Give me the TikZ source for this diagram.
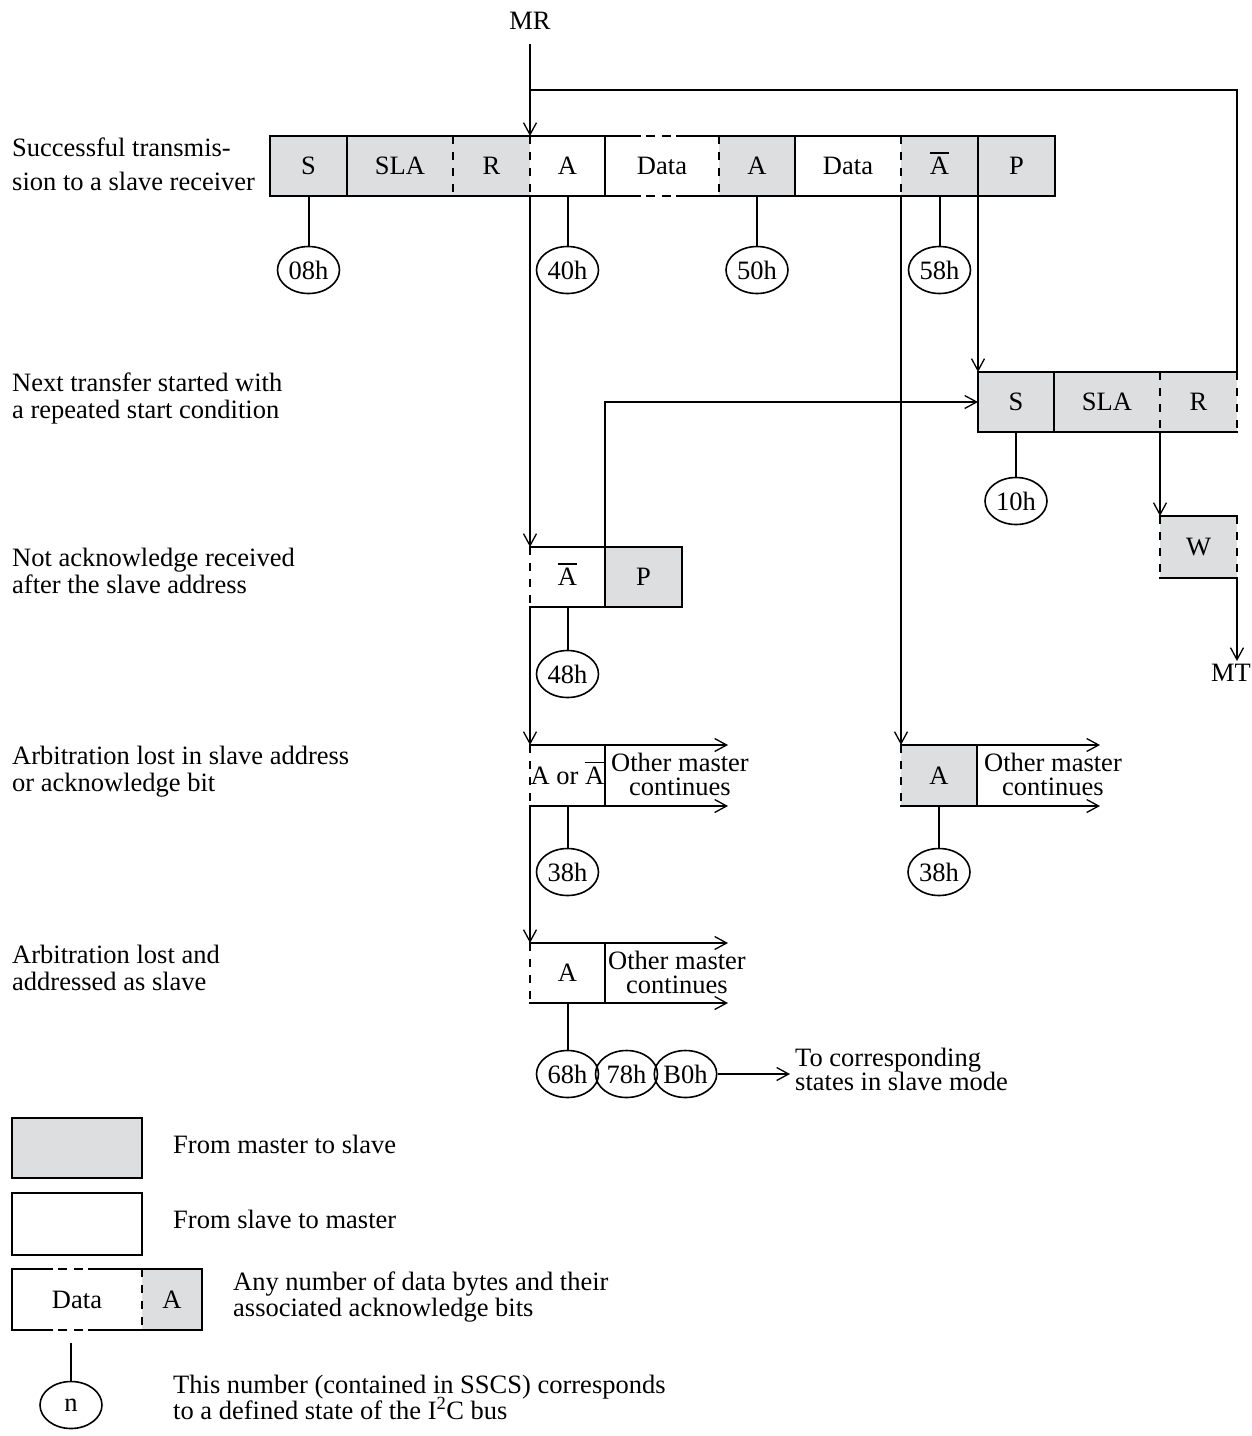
\documentclass[tikz,border=0pt]{standalone}
\usepackage{fontspec}
\setmainfont{Liberation Serif}
\usetikzlibrary{arrows.meta,shapes.geometric}
\definecolor{mgray}{RGB}{221,222,224}
\newcommand{\ovA}{\makebox[0pt][l]{\smash{\rule[21pt]{19pt}{1.5pt}}}A}
\begin{document}
\begin{tikzpicture}[x=1pt,y=-1pt,font=\fontsize{26.5}{27}\selectfont]
\tikzset{
 cell/.style={draw=none, minimum height=60pt, inner sep=0pt, outer sep=0pt, anchor=north west},
 gcell/.style={cell, fill=mgray},
 wcell/.style={cell, fill=white},
 boxline/.style={line width=2pt, line cap=rect},
 dashline/.style={line width=2pt, dash pattern=on 8pt off 8pt},
 midgap/.style={line width=2pt, dash pattern=on 0pt off 6pt on 9pt off 7pt on 9pt off 6pt},
 conn/.style={line width=1.3pt},
 arr/.style={conn, -{Straight Barb[length=12pt,width=13pt,line width=1.3pt]}},
 stem/.style={line width=2pt},
 stnode/.style={ellipse, draw, line width=1.6pt, minimum width=62pt, minimum height=47pt, inner sep=0pt},
 lbl/.style={anchor=base west, inner sep=0pt},
 ctr/.style={anchor=base, inner sep=0pt},
}
\useasboundingbox (0,0) rectangle (1252,1436);

% ---------- left labels ----------
\node[lbl] (l1a) at (12,156) {Successful transmis-};
\node[lbl] (l1b) at (12,190) {sion to a slave receiver};
\node[lbl] (l2a) at (12,391) {Next transfer started with};
\node[lbl] (l2b) at (12,418) {a repeated start condition};
\node[lbl] (l3a) at (12,566) {Not acknowledge received};
\node[lbl] (l3b) at (12,593) {after the slave address};
\node[lbl] (l4a) at (12,764) {Arbitration lost in slave address};
\node[lbl] (l4b) at (12,791) {or acknowledge bit};
\node[lbl] (l5a) at (12,963) {Arbitration lost and};
\node[lbl] (l5b) at (12,990) {addressed as slave};

% ---------- row 1 ----------
\node[gcell, minimum width=77pt] (s1) at (270,136) {S};
\node[gcell, minimum width=106pt] (sla1) at (347,136) {SLA};
\node[gcell, minimum width=77pt] (r1) at (453,136) {R};
\node[wcell, minimum width=75pt] (a1) at (530,136) {A};
\node[wcell, minimum width=114pt] (d1) at (605,136) {Data};
\node[gcell, minimum width=76pt] (a2) at (719,136) {A};
\node[wcell, minimum width=106pt] (d2) at (795,136) {Data};
\node[gcell, minimum width=77pt] (nab1) at (901,136) {\ovA};
\node[gcell, minimum width=77pt] (p1) at (978,136) {P};
\draw[boxline] (s1.north west) -- ([xshift=35pt]d1.north west);
\draw[midgap] ([xshift=35pt]d1.north west) -- ([xshift=72pt]d1.north west);
\draw[boxline] ([xshift=72pt]d1.north west) -- (p1.north east);
\draw[boxline] (s1.south west) -- ([xshift=35pt]d1.south west);
\draw[midgap] ([xshift=35pt]d1.south west) -- ([xshift=72pt]d1.south west);
\draw[boxline] ([xshift=72pt]d1.south west) -- (p1.south east);
\draw[boxline] (s1.north west) -- (s1.south west);
\draw[boxline] (sla1.north west) -- (sla1.south west);
\draw[dashline] (r1.north west) -- (r1.south west);
\draw[dashline] (a1.north west) -- (a1.south west);
\draw[boxline] (d1.north west) -- (d1.south west);
\draw[dashline] (a2.north west) -- (a2.south west);
\draw[boxline] (d2.north west) -- (d2.south west);
\draw[dashline] (nab1.north west) -- (nab1.south west);
\draw[boxline] (p1.north west) -- (p1.south west);
\draw[boxline] (p1.north east) -- (p1.south east);

% ---------- row 2 ----------
\node[gcell, minimum width=76pt] (s2) at (978,372) {S};
\node[gcell, minimum width=106pt] (sla2) at (1054,372) {SLA};
\node[gcell, minimum width=77pt] (r2) at (1160,372) {R};
\draw[boxline] (s2.north west) -- (r2.north east);
\draw[boxline] (s2.south west) -- (r2.south east);
\draw[boxline] (s2.north west) -- (s2.south west);
\draw[boxline] (sla2.north west) -- (sla2.south west);
\draw[dashline] (r2.north west) -- (r2.south west);
\draw[dashline] (r2.north east) -- (r2.south east);

% W box
\node[gcell, minimum width=77pt, minimum height=62pt] (w) at (1160,516) {W};
\draw[boxline] (w.north west) -- (w.north east);
\draw[boxline] (w.south west) -- (w.south east);
\draw[dashline] (w.north west) -- (w.south west);
\draw[dashline] (w.north east) -- (w.south east);

% ---------- row 4 ----------
\node[wcell, minimum width=75pt] (nab2) at (530,547) {\ovA};
\node[gcell, minimum width=77pt] (p2) at (605,547) {P};
\draw[boxline] (nab2.north west) -- (p2.north east) -- (p2.south east) -- (nab2.south west);
\draw[boxline] (p2.north west) -- (p2.south west);
\draw[dashline] (nab2.north west) -- (nab2.south west);

% ---------- row 5 ----------
\node[wcell, minimum width=75pt, minimum height=61pt] (aor) at (530,745) {A or \ovA};
\draw[boxline] (aor.north west) -- (aor.north east) -- (aor.south east) -- (aor.south west);
\draw[dashline] (aor.north west) -- (aor.south west);
\node[gcell, minimum width=76pt, minimum height=61pt] (a5) at (901,745) {A};
\draw[boxline] (a5.north west) -- (a5.north east) -- (a5.south east) -- (a5.south west);
\draw[dashline] (a5.north west) -- (a5.south west);

% ---------- row 6 ----------
\node[wcell, minimum width=75pt] (a6) at (530,943) {A};
\draw[boxline] (a6.north west) -- (a6.north east) -- (a6.south east) -- (a6.south west);
\draw[dashline] (a6.north west) -- (a6.south west);

% ---------- other master continues ----------
\coordinate (o1t) at (728,745); \coordinate (o1b) at (728,806);
\coordinate (o2t) at (1100,745); \coordinate (o2b) at (1100,806);
\coordinate (o3t) at (728,943); \coordinate (o3b) at (728,1003);
\draw[arr] (aor.north east) -- (o1t);
\draw[arr] (aor.south east) -- (o1b);
\draw[arr] (a5.north east) -- (o2t);
\draw[arr] (a5.south east) -- (o2b);
\draw[arr] (a6.north east) -- (o3t);
\draw[arr] (a6.south east) -- (o3b);
\node[ctr] (om1a) at (680,771) {Other master};
\node[ctr] (om1b) at (680,795) {continues};
\node[ctr] (om2a) at (1053,771) {Other master};
\node[ctr] (om2b) at (1053,795) {continues};
\node[ctr] (om3a) at (677,969) {Other master};
\node[ctr] (om3b) at (677,993) {continues};

% ---------- state ellipses ----------
\node[stnode] (e08) at (308.5,270) {08h};
\node[stnode] (e40) at (567.5,270) {40h};
\node[stnode] (e50) at (757,270) {50h};
\node[stnode] (e58) at (939.5,270) {58h};
\node[stnode] (e10) at (1016,501) {10h};
\node[stnode] (e48) at (567.5,674) {48h};
\node[stnode] (e38a) at (567.5,872) {38h};
\node[stnode] (e38b) at (939,872) {38h};
\node[stnode] (e68) at (567.5,1074) {68h};
\node[stnode] (e78) at (626.5,1074) {78h};
\node[stnode] (eb0) at (685.5,1074) {B0h};
\draw[stem] (s1.south) -- (e08.north);
\draw[stem] (a1.south) -- (e40.north);
\draw[stem] (a2.south) -- (e50.north);
\draw[stem] (nab1.south) -- (e58.north);
\draw[stem] (s2.south) -- (e10.north);
\draw[stem] (nab2.south) -- (e48.north);
\draw[stem] (aor.south) -- (e38a.north);
\draw[stem] (a5.south) -- (e38b.north);
\draw[stem] (a6.south) -- (e68.north);

\coordinate (tocorr) at (790,1074);
\draw[arr] (eb0.east) -- (tocorr);
\node[lbl] (tc1) at (795,1066) {To corresponding};
\node[lbl] (tc2) at (795,1090) {states in slave mode};

% ---------- MR / MT and connectors ----------
\node[ctr] (MR) at (530,29) {MR};
\coordinate (mrtop) at (530,44);
\coordinate (br) at (530,90);
\draw[arr] (mrtop) -- (a1.north west);
\draw[conn] (br) -| (r2.north east);
\draw[arr] (a1.south west) -- (nab2.north west);
\draw[arr] (nab2.south west) -- (aor.north west);
\draw[arr] (aor.south west) -- (a6.north west);
\draw[arr] (d2.south east) -- (a5.north west);
\draw[arr] (nab1.south east) -- (s2.north west);
\draw[arr] (p2.north west) |- (s2.west);
\draw[arr] (r2.south west) -- (w.north west);
\node[anchor=north east, inner sep=0pt] (MT) at (1251,664) {MT};
\coordinate (mtend) at (1237,661);
\draw[arr] (w.south east) -- (mtend);

% ---------- legend ----------
\node[gcell, minimum width=130pt] (lg1) at (12,1118) {};
\draw[boxline] (lg1.north west) rectangle (lg1.south east);
\node[lbl] (lt1) at (173,1153) {From master to slave};
\node[wcell, minimum width=130pt, minimum height=62pt] (lg2) at (12,1193) {};
\draw[boxline] (lg2.north west) rectangle (lg2.south east);
\node[lbl] (lt2) at (173,1228) {From slave to master};
\node[wcell, minimum width=130pt, minimum height=61pt] (lg3d) at (12,1269) {Data};
\node[gcell, minimum width=60pt, minimum height=61pt] (lg3a) at (142,1269) {A};
\draw[boxline] (lg3d.north west) -- ([xshift=40pt]lg3d.north west);
\draw[midgap] ([xshift=40pt]lg3d.north west) -- ([xshift=77pt]lg3d.north west);
\draw[boxline] ([xshift=77pt]lg3d.north west) -- (lg3a.north east) -- (lg3a.south east) -- ([xshift=77pt]lg3d.south west);
\draw[midgap] ([xshift=77pt]lg3d.south west) -- ([xshift=40pt]lg3d.south west);
\draw[boxline] ([xshift=40pt]lg3d.south west) -- (lg3d.south west) -- (lg3d.north west);
\draw[dashline] (lg3a.north west) -- (lg3a.south west);
\node[lbl] (lt3a) at (233,1290) {Any number of data bytes and their};
\node[lbl] (lt3b) at (233,1316) {associated acknowledge bits};
\node[stnode] (en) at (71,1405) {n};
\coordinate (nstem) at (71,1343);
\draw[stem] (nstem) -- (en.north);
\node[lbl] (lt4a) at (173,1393) {This number (contained in SSCS) corresponds};
\node[lbl] (lt4b) at (173,1419) {to a defined state of the I\textsuperscript{2}C bus};
\end{tikzpicture}
\end{document}
